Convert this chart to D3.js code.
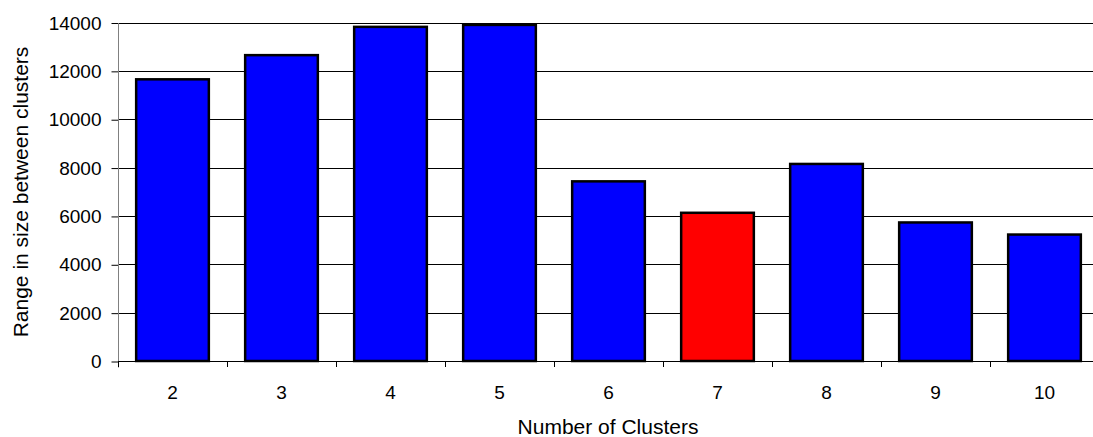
<!DOCTYPE html>
<meta charset="utf-8">
<style>
  body { margin: 0; background: #fff; }
  text { font-family: Arial, "Liberation Sans", sans-serif; fill: #000; }
</style>
<svg id="chart" width="1093" height="437"></svg>
<script src="https://cdn.jsdelivr.net/npm/d3@7"></script>
<script>
// chart data
var clusters = ["2", "3", "4", "5", "6", "7", "8", "9", "10"];
var ranges = [11650, 12650, 13820, 13900, 7430, 6130, 8150, 5730, 5230];
var highlight = ["7"];
var yTicks = [0, 2000, 4000, 6000, 8000, 10000, 12000, 14000];

var svg = d3.select("#chart"),
    plot = {left: 118, right: 1099, top: 22.5, bottom: 361};

var x = d3.scaleBand()
    .domain(clusters)
    .range([plot.left, plot.right])
    .paddingInner(1 / 3)
    .paddingOuter(1 / 6);

var y = d3.scaleLinear()
    .domain([0, 14000])
    .range([plot.bottom, plot.top]);

var data = clusters.map(function(c, i) { return {k: c, v: ranges[i]}; });

// gridlines
svg.append("g")
  .selectAll("line")
  .data(yTicks)
  .enter().append("line")
    .attr("x1", plot.left)
    .attr("x2", plot.right)
    .attr("y1", function(d) { return Math.round(y(d)) + 0.5; })
    .attr("y2", function(d) { return Math.round(y(d)) + 0.5; })
    .attr("stroke", "#000")
    .attr("stroke-width", 1);

// y axis
var yAxis = svg.append("g")
    .attr("transform", "translate(" + (plot.left + 0.5) + ",0.5)")
    .call(d3.axisLeft(y).tickValues(yTicks).tickSize(7).tickPadding(10).tickFormat(d3.format("d")));
yAxis.select(".domain").remove();
yAxis.selectAll(".tick line").attr("stroke", "#000");
yAxis.selectAll(".tick text").style("font-size", "19px").style("font-family", "Arial, 'Liberation Sans', sans-serif").attr("fill", "#000");
yAxis.append("line")
    .attr("x1", 0).attr("x2", 0)
    .attr("y1", y(14000)).attr("y2", plot.bottom + 6)
    .attr("stroke", "#808080");

// bars
svg.append("g")
  .selectAll("rect")
  .data(data)
  .enter().append("rect")
    .attr("x", function(d) { return x(d.k); })
    .attr("y", function(d) { return y(d.v); })
    .attr("width", x.bandwidth())
    .attr("height", function(d) { return plot.bottom - y(d.v); })
    .attr("fill", function(d) { return highlight.indexOf(d.k) >= 0 ? "#ff0000" : "#0000ff"; })
    .attr("stroke", "#000")
    .attr("stroke-width", 2.5);

// x axis: ticks sit between categories
var step = x.step();
var bounds = clusters.map(function(c) { return x(c) - x.paddingOuter() * step; });
svg.append("g")
  .selectAll("line")
  .data(bounds)
  .enter().append("line")
    .attr("x1", function(d) { return Math.round(d) + 0.5; })
    .attr("x2", function(d) { return Math.round(d) + 0.5; })
    .attr("y1", plot.bottom)
    .attr("y2", plot.bottom + 6)
    .attr("stroke", "#000");

svg.append("g")
  .selectAll("text")
  .data(clusters)
  .enter().append("text")
    .attr("x", function(d) { return x(d) + x.bandwidth() / 2; })
    .attr("y", 399)
    .attr("text-anchor", "middle")
    .style("font-size", "19px")
    .text(function(d) { return d; });

// titles
svg.append("text")
    .attr("x", 608)
    .attr("y", 434)
    .attr("text-anchor", "middle")
    .style("font-size", "21px")
    .text("Number of Clusters");

svg.append("text")
    .attr("transform", "translate(28,192) rotate(-90)")
    .attr("text-anchor", "middle")
    .style("font-size", "21px")
    .text("Range in size between clusters");
</script>
